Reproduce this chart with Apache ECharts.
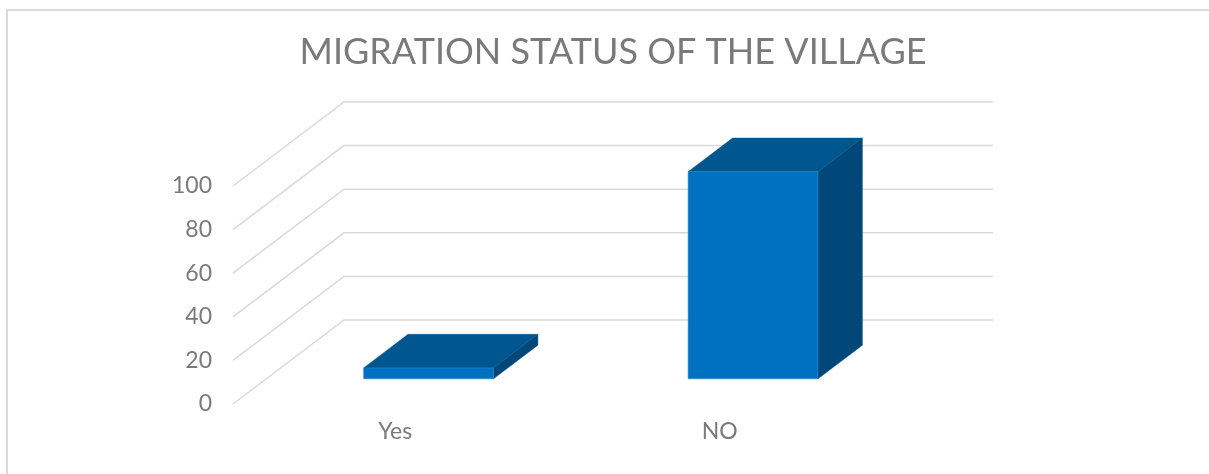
<!DOCTYPE html>
<html>
<head>
<meta charset="utf-8">
<style>
  html, body { margin: 0; padding: 0; background: #ffffff; }
  #chart { width: 1209px; height: 474px; }
</style>
<script src="https://cdn.jsdelivr.net/npm/echarts@6/dist/echarts.min.js"></script>
</head>
<body>
<div id="chart"></div>
<script>
// Migration status: share of households, in percent
const categories = ['Yes', 'NO'];
const migrationValues = [5, 95];
const yTicks = [0, 20, 40, 60, 80, 100];

// Oblique 3D projection: how far the back wall sits from the front plane
const DEPTH_X = 111;
const DEPTH_Y = -84;
// Bars occupy this slice of the floor depth
const BAR_DEPTH_FRONT = 0.3;
const BAR_DEPTH_BACK = 0.7;
const BAR_WIDTH_RATIO = 0.4;

const FRONT_COLOR = '#0070C0';
const TOP_COLOR = '#00568F';
const SIDE_COLOR = '#00477A';
const GRID_COLOR = '#d9d9d9';
const TEXT_COLOR = '#7a7a7a';

const chart = echarts.init(document.getElementById('chart'));

// Floor-to-back-wall gridlines: a diagonal from the front edge, then a horizontal across the back wall
function renderWallLine(params, api) {
  const cs = params.coordSys;
  const v = api.value(1);
  const front = api.coord([0, v]);
  const y = front[1];
  const x0 = cs.x;
  const x1 = cs.x + cs.width;
  return {
    type: 'polyline',
    shape: {
      points: [
        [x0, y],
        [x0 + DEPTH_X, y + DEPTH_Y],
        [x1 + DEPTH_X, y + DEPTH_Y]
      ]
    },
    style: { stroke: GRID_COLOR, lineWidth: 1.5, fill: null }
  };
}

// A box drawn as front, top and right faces
function renderBox(params, api) {
  const idx = api.value(0);
  const v = api.value(1);
  const base = api.coord([idx, 0]);
  const topPt = api.coord([idx, v]);
  const band = api.size([1, 0])[0];
  const half = band * BAR_WIDTH_RATIO / 2;
  const fx = base[0] + BAR_DEPTH_FRONT * DEPTH_X;
  const fyOff = BAR_DEPTH_FRONT * DEPTH_Y;
  const dx = (BAR_DEPTH_BACK - BAR_DEPTH_FRONT) * DEPTH_X;
  const dy = (BAR_DEPTH_BACK - BAR_DEPTH_FRONT) * DEPTH_Y;
  const L = fx - half, R = fx + half;
  const B = base[1] + fyOff, T = topPt[1] + fyOff;
  return {
    type: 'group',
    children: [
      {
        type: 'polygon',
        shape: { points: [[R, B], [R + dx, B + dy], [R + dx, T + dy], [R, T]] },
        style: { fill: SIDE_COLOR, stroke: SIDE_COLOR, lineWidth: 0.5 }
      },
      {
        type: 'polygon',
        shape: { points: [[L, T], [R, T], [R + dx, T + dy], [L + dx, T + dy]] },
        style: { fill: TOP_COLOR, stroke: TOP_COLOR, lineWidth: 0.5 }
      },
      {
        type: 'rect',
        shape: { x: L, y: T, width: R - L, height: B - T },
        style: { fill: FRONT_COLOR, stroke: '#2a86c8', lineWidth: 0.6 }
      }
    ]
  };
}

const option = {
  backgroundColor: '#ffffff',
  animation: false,
  title: {
    text: 'MIGRATION STATUS OF THE VILLAGE',
    left: 608,
    top: 29,
    textAlign: 'center',
    textStyle: {
      fontFamily: 'Lato',
      fontWeight: 'normal',
      fontSize: 36,
      color: TEXT_COLOR
    }
  },
  graphic: [
    {
      type: 'polyline',
      shape: { points: [[7, 474], [7, 10], [1209, 10]] },
      style: { stroke: GRID_COLOR, lineWidth: 2, fill: null },
      silent: true
    }
  ],
  grid: {
    left: 233,
    width: 649,
    top: 186,
    height: 218
  },
  xAxis: {
    type: 'category',
    data: categories,
    boundaryGap: true,
    axisLine: { show: false },
    axisTick: { show: false },
    axisLabel: {
      margin: 16,
      fontFamily: 'Lato',
      fontSize: 23,
      color: TEXT_COLOR
    }
  },
  yAxis: {
    type: 'value',
    min: 0,
    max: 100,
    interval: 20,
    axisLine: { show: false },
    axisTick: { show: false },
    splitLine: { show: false },
    axisLabel: {
      margin: 21,
      fontFamily: 'Lato',
      fontSize: 23,
      color: TEXT_COLOR
    }
  },
  series: [
    {
      type: 'custom',
      name: 'wall',
      silent: true,
      z: 1,
      renderItem: renderWallLine,
      data: yTicks.map(function (t) { return [0, t]; })
    },
    {
      type: 'custom',
      name: 'Migration',
      z: 2,
      renderItem: renderBox,
      data: migrationValues.map(function (v, i) { return [i, v]; })
    }
  ]
};

chart.setOption(option);
</script>
</body>
</html>
